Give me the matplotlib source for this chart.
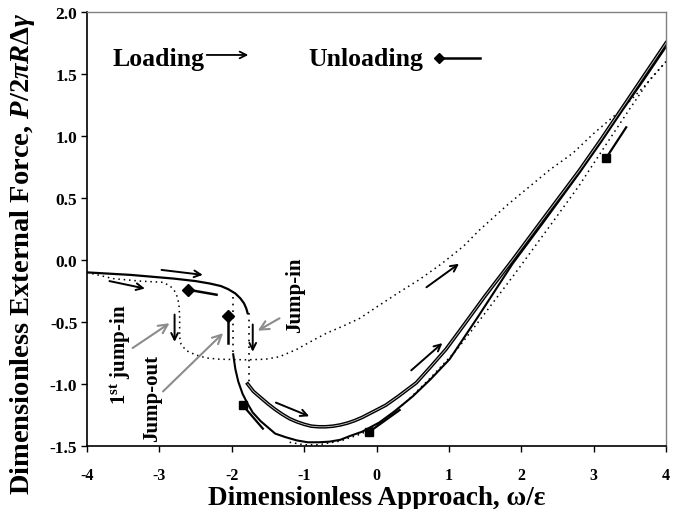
import matplotlib
matplotlib.use("Agg")
import matplotlib.pyplot as plt

plt.rcParams['font.family'] = ['Liberation Serif', 'DejaVu Serif']
plt.rcParams['font.weight'] = 'bold'
plt.rcParams['mathtext.fontset'] = 'custom'
plt.rcParams['mathtext.rm'] = 'Liberation Serif:bold'
plt.rcParams['mathtext.it'] = 'Liberation Serif:italic:bold'
plt.rcParams['mathtext.bf'] = 'Liberation Serif:bold'

# ---- data ----
upper_x = [-4.0, -3.7, -3.4, -3.1, -2.8, -2.5, -2.3, -2.15, -2.05, -1.95, -1.88, -1.83, -1.80, -1.78]
upper_y = [-0.10, -0.11, -0.12, -0.135, -0.15, -0.17, -0.19, -0.21, -0.235, -0.27, -0.31, -0.35, -0.39, -0.43]

jumpin_x = [-1.76, -1.76]
jumpin_y = [-0.43, -1.0]
jumpout_x = [-1.98, -1.98]
jumpout_y = [-0.30, -0.75]

load_x = [-1.78, -1.7, -1.6, -1.5, -1.4, -1.3, -1.2, -1.1, -1.0, -0.9, -0.8, -0.7, -0.6,
          -0.5, -0.4, -0.3, -0.2, -0.1, 0.0, 0.13, 0.3, 0.55, 0.75, 0.96, 1.2, 1.5, 1.88,
          2.3, 2.8, 3.1, 3.4, 3.7, 4.0]
load_y = [-1.0, -1.06, -1.11, -1.16, -1.205, -1.245, -1.28, -1.305, -1.325, -1.34, -1.345,
          -1.345, -1.34, -1.33, -1.315, -1.295, -1.27, -1.24, -1.21, -1.17, -1.10, -0.99,
          -0.86, -0.72, -0.53, -0.29, 0.0, 0.33, 0.72, 0.97, 1.23, 1.49, 1.75]

unload_x = [4.0, 3.7, 3.4, 3.1, 2.8, 2.3, 1.88, 1.4, 1.01, 0.75, 0.5, 0.25, 0.04, -0.2,
            -0.37, -0.5, -0.65, -0.8, -0.95, -1.1, -1.25, -1.4, -1.5, -1.6, -1.71, -1.78,
            -1.85, -1.91, -1.95, -1.98]
unload_y = [1.72, 1.46, 1.21, 0.95, 0.70, 0.30, -0.03, -0.46, -0.80, -0.96, -1.10, -1.22,
            -1.31, -1.385, -1.42, -1.45, -1.465, -1.47, -1.47, -1.455, -1.43, -1.40, -1.35,
            -1.30, -1.23, -1.16, -1.08, -0.98, -0.88, -0.76]

wide_x = [-4.0, -3.64, -3.27, -2.95, -2.85, -2.79, -2.75, -2.73, -2.72, -2.72, -2.70, -2.63,
          -2.5, -2.35, -2.17, -1.8, -1.53, -1.34, -1.1, -0.9, -0.69, -0.45, -0.23, 0.0, 0.3,
          0.6, 0.9, 1.2, 1.42, 1.8, 2.11, 2.4, 2.71, 3.0, 3.36, 3.7, 4.0]
wide_y = [-0.10, -0.15, -0.17, -0.18, -0.21, -0.25, -0.30, -0.36, -0.45, -0.62, -0.68, -0.73,
          -0.765, -0.79, -0.80, -0.805, -0.80, -0.78, -0.72, -0.655, -0.59, -0.53, -0.47,
          -0.38, -0.265, -0.155, -0.03, 0.11, 0.24, 0.44, 0.59, 0.73, 0.86, 1.02, 1.20, 1.40, 1.60]

tight_x = [4.0, 3.77, 3.5, 3.17, 2.8, 2.39, 1.9, 1.42, 1.1, 0.73, 0.4, 0.1, -0.2, -0.5,
           -0.8, -1.0, -1.2]
tight_y = [1.60, 1.45, 1.22, 0.93, 0.60, 0.27, -0.12, -0.49, -0.73, -0.96, -1.15, -1.29,
           -1.40, -1.46, -1.49, -1.49, -1.47]

xticks = [-4, -3, -2, -1, 0, 1, 2, 3, 4]
yticks = [-1.5, -1.0, -0.5, 0.0, 0.5, 1.0, 1.5, 2.0]

# direction arrows (start -> end) in data coordinates
load_arrows = [((-2.97, -0.08), (-2.40, -0.12)),
               ((-3.69, -0.17), (-3.20, -0.23)),
               ((-2.79, -0.44), (-2.79, -0.66)),
               ((-1.71, -0.52), (-1.71, -0.74)),
               ((-1.39, -1.15), (-0.93, -1.26)),
               ((0.48, -0.89), (0.91, -0.67)),
               ((0.69, -0.22), (1.14, -0.03))]
diamond_lines = [((-2.21, -0.28), (-2.60, -0.24)),
                 ((-2.05, -0.67), (-2.05, -0.45))]
square_lines = [((-1.57, -1.36), (-1.85, -1.17)),
                ((0.32, -1.21), (-0.11, -1.39)),
                ((3.45, 1.07), (3.17, 0.82))]
gray_arrows = [((-3.37, -0.71), (-2.86, -0.51)),
               ((-2.95, -1.06), (-2.12, -0.59)),
               ((-1.34, -0.47), (-1.64, -0.57))]

fig = plt.figure(figsize=(6.83, 5.10), dpi=100)
ax = fig.add_axes([87 / 683, 63 / 510, 579 / 683, 434 / 510])

# curves
ax.plot(wide_x, wide_y, color='k', lw=1.1, ls=(0, (1, 2.5)))
ax.plot(tight_x, tight_y, color='k', lw=1.1, ls=(0, (1, 2.5)))
ax.plot(jumpin_x, jumpin_y, color='k', lw=1.2, ls=(0, (1, 3)))
ax.plot(jumpout_x, jumpout_y, color='k', lw=1.2, ls=(0, (1, 3)))
ax.plot(upper_x, upper_y, color='k', lw=1.6)
ax.plot(unload_x, unload_y, color='k', lw=1.5)
ax.plot(load_x, load_y, color='k', lw=2.6)
ax.plot(load_x, load_y, color='white', lw=0.6, alpha=0.8)

for (s, e) in load_arrows:
    ax.annotate('', xy=e, xytext=s,
                arrowprops=dict(arrowstyle='->', lw=1.4, color='k',
                                mutation_scale=12, shrinkA=0, shrinkB=0))
for (s, e) in diamond_lines:
    ax.plot([s[0], e[0]], [s[1], e[1]], color='k', lw=1.8)
    ax.plot([e[0]], [e[1]], marker='D', color='k', ms=6)
for (s, e) in square_lines:
    ax.plot([s[0], e[0]], [s[1], e[1]], color='k', lw=1.6)
    ax.plot([e[0]], [e[1]], marker='s', color='k', ms=6)
for (s, e) in gray_arrows:
    ax.annotate('', xy=e, xytext=s,
                arrowprops=dict(arrowstyle='->', lw=1.5, color='#8c8c8c',
                                mutation_scale=16, shrinkA=0, shrinkB=0))

# labels on the chart
ax.text(-3.54, -0.755, r'1$^{\mathrm{st}}$ jump-in', rotation=90, ha='center',
        va='center', fontsize=15, fontweight='bold')
ax.text(-3.10, -1.11, 'Jump-out', rotation=90, ha='center', va='center',
        fontsize=15, fontweight='bold')
ax.text(-1.12, -0.28, 'Jump-in', rotation=90, ha='center', va='center',
        fontsize=15, fontweight='bold')

# legend-like texts
ax.text(0.044, 0.8786, 'Loading', transform=ax.transAxes, ha='left',
        va='baseline', fontsize=18.5, fontweight='bold')
ax.annotate('', xy=(0.2786, 0.901), xytext=(0.2067, 0.901),
            xycoords='axes fraction', textcoords='axes fraction',
            arrowprops=dict(arrowstyle='->', lw=1.3, color='k',
                            mutation_scale=12, shrinkA=0, shrinkB=0))
ax.text(0.3817, 0.8786, 'Unloading', transform=ax.transAxes, ha='left',
        va='baseline', fontsize=18.5, fontweight='bold')
ax.plot([0.608, 0.679], [0.894, 0.894], color='k', lw=1.8, transform=ax.transAxes)
ax.plot([0.608], [0.894], marker='D', color='k', ms=5, transform=ax.transAxes)

ax.set_xlim(-4, 4)
ax.set_ylim(-1.5, 2.0)
ax.set_xticks(xticks)
ax.set_yticks(yticks)
ax.set_xticklabels([str(t) for t in xticks])
ax.set_yticklabels(['%.1f' % t for t in yticks])
ax.tick_params(direction='out', length=4, width=1, labelsize=12.5, pad=3)
ax.tick_params(axis='x', labelsize=11.5, pad=11)
for lab in ax.get_xticklabels() + ax.get_yticklabels():
    lab.set_fontweight('bold')

for side in ['top', 'right']:
    ax.spines[side].set_color('#808080')
    ax.spines[side].set_linewidth(1.0)
for side in ['left', 'bottom']:
    ax.spines[side].set_color('k')
    ax.spines[side].set_linewidth(1.2)

ax.set_xlabel('Dimensionless Approach, ω/ε', fontsize=19.5, fontweight='bold')
ax.set_ylabel(r'Dimensionless External Force, $P/2\pi R\Delta\gamma$',
              fontsize=20.5, fontweight='bold')
ax.xaxis.set_label_coords(0.5, -0.091)
ax.yaxis.set_label_coords(-0.112, 0.445)
ax.yaxis.label.set_va('center')

fig.savefig('out.png', dpi=100)
